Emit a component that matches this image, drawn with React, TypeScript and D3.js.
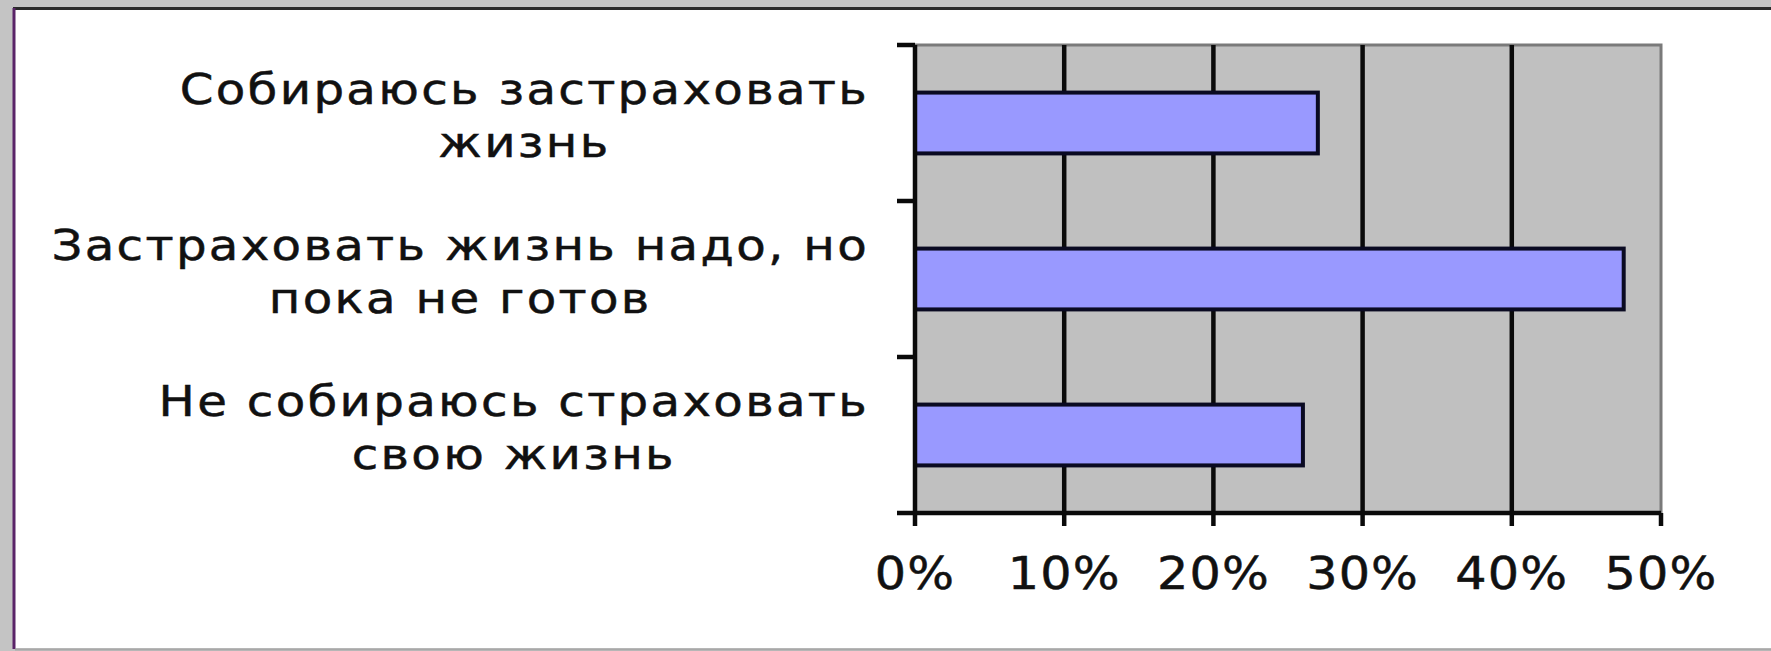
import React, { useEffect, useRef } from 'react';
import * as d3 from 'd3';

// Chart data
const categoryLines: string[][] = [
  ['Собираюсь застраховать', 'жизнь'],
  ['Застраховать жизнь надо, но', 'пока не готов'],
  ['Не собираюсь страховать', 'свою жизнь'],
];
const shares: number[] = [0.27, 0.475, 0.26];
const xTicks: number[] = [0, 0.1, 0.2, 0.3, 0.4, 0.5];

const W = 1771;
const H = 651;

export default function App() {
  const svgRef = useRef<SVGSVGElement>(null);

  useEffect(() => {
    if (!svgRef.current) return;
    const svg = d3.select(svgRef.current);
    svg.selectAll('*').remove();

    const plot = { left: 915, right: 1661, top: 45, bottom: 513 };
    const fontFamily = '"DejaVu Sans", Verdana, sans-serif';

    // page background and white chart panel
    svg.append('rect').attr('width', W).attr('height', H).attr('fill', '#c4c4c4');
    svg.append('rect')
      .attr('x', 15).attr('y', 10)
      .attr('width', W - 15).attr('height', 638)
      .attr('fill', '#ffffff');
    svg.append('line')
      .attr('x1', 13).attr('x2', W).attr('y1', 8.5).attr('y2', 8.5)
      .attr('stroke', '#2a2a2a').attr('stroke-width', 3);
    svg.append('line')
      .attr('x1', 14).attr('x2', 14).attr('y1', 8).attr('y2', 649)
      .attr('stroke', '#5a2468').attr('stroke-width', 3);
    svg.append('line')
      .attr('x1', 15).attr('x2', W).attr('y1', 649.5).attr('y2', 649.5)
      .attr('stroke', '#a8a8a8').attr('stroke-width', 2);

    const x = d3.scaleLinear().domain([0, 0.5]).range([plot.left, plot.right]);
    const yOuter = d3.scaleBand<number>()
      .domain(d3.range(categoryLines.length))
      .range([plot.top, plot.bottom]);
    const y = d3.scaleBand<number>()
      .domain(d3.range(categoryLines.length))
      .range([plot.top, plot.bottom])
      .paddingInner(0.61)
      .paddingOuter(0.305);

    // plot area
    svg.append('rect')
      .attr('x', plot.left).attr('y', plot.top)
      .attr('width', plot.right - plot.left).attr('height', plot.bottom - plot.top)
      .attr('fill', '#c0c0c0')
      .attr('stroke', '#7a7a7a').attr('stroke-width', 3);

    // gridlines
    svg.selectAll('.grid')
      .data(xTicks.slice(1, -1))
      .join('line')
      .attr('class', 'grid')
      .attr('x1', d => x(d)).attr('x2', d => x(d))
      .attr('y1', plot.top).attr('y2', plot.bottom)
      .attr('stroke', '#0a0a0a').attr('stroke-width', 4.5);

    // bars
    svg.selectAll('.bar')
      .data(shares)
      .join('rect')
      .attr('class', 'bar')
      .attr('x', x(0))
      .attr('y', (_, i) => y(i)!)
      .attr('width', d => x(d) - x(0))
      .attr('height', y.bandwidth())
      .attr('fill', '#9999ff')
      .attr('stroke', '#0a0a22').attr('stroke-width', 4);

    // y axis with category ticks
    const yTickPos = [...d3.range(categoryLines.length).map(i => yOuter(i)!), plot.bottom];
    svg.append('line')
      .attr('x1', plot.left).attr('x2', plot.left)
      .attr('y1', plot.top).attr('y2', plot.bottom)
      .attr('stroke', '#0a0a0a').attr('stroke-width', 4.5);
    svg.selectAll('.ytick')
      .data(yTickPos)
      .join('line')
      .attr('class', 'ytick')
      .attr('x1', plot.left - 18).attr('x2', plot.left)
      .attr('y1', d => d).attr('y2', d => d)
      .attr('stroke', '#0a0a0a').attr('stroke-width', 4.5);

    // x axis
    svg.append('line')
      .attr('x1', plot.left).attr('x2', plot.right)
      .attr('y1', plot.bottom).attr('y2', plot.bottom)
      .attr('stroke', '#0a0a0a').attr('stroke-width', 4.5);
    svg.selectAll('.xtick')
      .data(xTicks)
      .join('line')
      .attr('class', 'xtick')
      .attr('x1', d => x(d)).attr('x2', d => x(d))
      .attr('y1', plot.bottom).attr('y2', plot.bottom + 13)
      .attr('stroke', '#0a0a0a').attr('stroke-width', 4.5);

    const fmt = d3.format('.0%');
    svg.selectAll('.xlabel')
      .data(xTicks)
      .join('text')
      .attr('class', 'xlabel')
      .attr('transform', d => `translate(${x(d)},589) scale(1.12,1)`)
      .attr('text-anchor', 'middle')
      .attr('fill', '#111')
      .attr('stroke', '#111').attr('stroke-width', 0.5)
      .attr('style', `font-family: ${fontFamily}; font-size: 44px; letter-spacing: 1px;`)
      .text(d => fmt(d));

    // category labels: block right-aligned, lines centred within block
    const labelRight = 869;
    const sx = 1.15;
    categoryLines.forEach((lines, i) => {
      const cy = yOuter(i)! + yOuter.bandwidth() / 2;
      const g = svg.append('g').attr('transform', `translate(${labelRight},0) scale(${sx},1)`);
      const texts = g.selectAll('text')
        .data(lines)
        .join('text')
        .attr('y', (_, j) => cy - 19 + j * 53)
        .attr('text-anchor', 'middle')
        .attr('fill', '#111')
        .attr('stroke', '#111').attr('stroke-width', 0.5)
        .attr('style', `font-family: ${fontFamily}; font-size: 42px; letter-spacing: 2px;`)
        .text(d => d);
      let maxW = 0;
      texts.each(function () {
        maxW = Math.max(maxW, (this as SVGTextElement).getComputedTextLength());
      });
      texts.attr('x', -maxW / 2);
    });
  }, []);

  return (
    <svg
      ref={svgRef}
      width={W}
      height={H}
      style={{ position: 'absolute', left: 0, top: 0, display: 'block' }}
    />
  );
}
